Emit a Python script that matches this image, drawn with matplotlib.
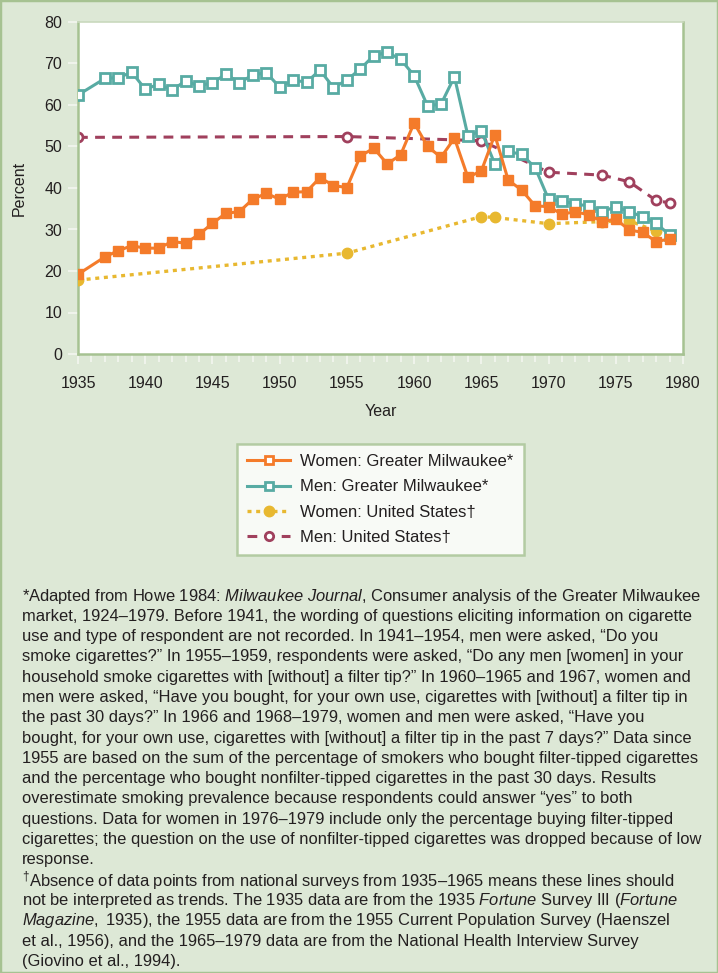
import matplotlib
matplotlib.use("Agg")
import matplotlib.pyplot as plt
from matplotlib.lines import Line2D
from matplotlib.patches import Rectangle
from matplotlib.ticker import MultipleLocator

plt.rcParams["font.family"] = ["Liberation Sans", "DejaVu Sans"]
plt.rcParams["mathtext.fontset"] = "custom"
plt.rcParams["mathtext.rm"] = "Liberation Sans"
plt.rcParams["mathtext.it"] = "Liberation Sans:italic"

BG = "#dde8d6"
EDGE = "#a6c292"
INK = "#231f20"
ORANGE = "#f47b2a"
TEAL = "#58aba3"
YELLOW = "#e8b830"
MAROON = "#a0405d"

# Greater Milwaukee, yearly (no 1936)
mke_years = [1935, 1937, 1938, 1939, 1940, 1941, 1942, 1943, 1944, 1945,
             1946, 1947, 1948, 1949, 1950, 1951, 1952, 1953, 1954, 1955,
             1956, 1957, 1958, 1959, 1960, 1961, 1962, 1963, 1964, 1965,
             1966, 1967, 1968, 1969, 1970, 1971, 1972, 1973, 1974, 1975,
             1976, 1977, 1978, 1979]
mke_women = [19.2, 23.4, 24.9, 26.1, 25.5, 25.5, 27.1, 26.7, 28.8, 31.5,
             33.9, 34.3, 37.3, 38.7, 37.3, 39.0, 39.1, 42.5, 40.6, 40.1,
             47.7, 49.6, 45.8, 48.0, 55.7, 50.0, 47.4, 52.0, 42.6, 44.1,
             52.8, 41.9, 39.5, 35.7, 35.5, 33.7, 34.3, 33.5, 31.9, 32.5,
             29.9, 29.3, 27.1, 27.7]
mke_men = [62.4, 66.4, 66.6, 67.9, 63.8, 65.0, 63.6, 65.8, 64.6, 65.4,
           67.4, 65.4, 67.2, 67.8, 64.3, 66.0, 65.5, 68.4, 64.2, 66.0,
           68.7, 71.9, 72.7, 71.0, 67.1, 59.8, 60.2, 66.8, 52.6, 53.8,
           45.8, 48.8, 48.1, 44.9, 37.3, 36.9, 36.1, 35.7, 34.3, 35.5,
           34.3, 33.1, 31.5, 28.7]

# national surveys
us_women_years = [1935, 1955, 1965, 1966, 1970, 1974, 1976, 1978]
us_women = [17.8, 24.3, 33.1, 32.9, 31.4, 31.9, 32.1, 29.6]
us_men_years = [1935, 1955, 1965, 1970, 1974, 1976, 1978, 1979]
us_men = [52.2, 52.4, 51.4, 43.8, 43.1, 41.5, 37.0, 36.4]

labels = ["Women: Greater Milwaukee*", "Men: Greater Milwaukee*",
          "Women: United States\u2020", "Men: United States\u2020"]

footnote = [
    "*Adapted from Howe 1984: $\\mathit{Milwaukee\\ Journal}$, Consumer analysis of the Greater Milwaukee",
    "market, 1924\u20131979. Before 1941, the wording of questions eliciting information on cigarette",
    "use and type of respondent are not recorded. In 1941\u20131954, men were asked, \u201cDo you",
    "smoke cigarettes?\u201d In 1955\u20131959, respondents were asked, \u201cDo any men [women] in your",
    "household smoke cigarettes with [without] a filter tip?\u201d In 1960\u20131965 and 1967, women and",
    "men were asked, \u201cHave you bought, for your own use, cigarettes with [without] a filter tip in",
    "the past 30 days?\u201d In 1966 and 1968\u20131979, women and men were asked, \u201cHave you",
    "bought, for your own use, cigarettes with [without] a filter tip in the past 7 days?\u201d Data since",
    "1955 are based on the sum of the percentage of smokers who bought filter-tipped cigarettes",
    "and the percentage who bought nonfilter-tipped cigarettes in the past 30 days. Results",
    "overestimate smoking prevalence because respondents could answer \u201cyes\u201d to both",
    "questions. Data for women in 1976\u20131979 include only the percentage buying filter-tipped",
    "cigarettes; the question on the use of nonfilter-tipped cigarettes was dropped because of low",
    "response.",
    "$^{\\dagger}$Absence of data points from national surveys from 1935\u20131965 means these lines should",
    "not be interpreted as trends. The 1935 data are from the 1935 $\\mathit{Fortune}$ Survey III ($\\mathit{Fortune}$",
    "$\\mathit{Magazine,\\ }$1935), the 1955 data are from the 1955 Current Population Survey (Haenszel",
    "et al., 1956), and the 1965\u20131979 data are from the National Health Interview Survey",
    "(Giovino et al., 1994).",
]

W, H = 718, 973
fig = plt.figure(figsize=(W / 100, H / 100), dpi=100)
fig.patch.set_facecolor(BG)
fig.patches.append(Rectangle((0, 0), 1, 1, transform=fig.transFigure,
                             fill=False, edgecolor=EDGE, lw=2.5))

ax = fig.add_axes([78 / W, 1 - 354 / H, 605 / W, 332 / H])
ax.set_facecolor("white")

ax.plot(us_men_years, us_men, color=MAROON, lw=2.2, ls=(0, (3.2, 2.4)),
        marker="o", ms=6.5, mfc="white", mec=MAROON, mew=2.0, zorder=2)
ax.plot(us_women_years, us_women, color=YELLOW, lw=2.4, ls=(0, (1.2, 1.4)),
        marker="o", ms=7.5, mfc=YELLOW, mec=YELLOW, zorder=3)
ax.plot(mke_years, mke_men, color=TEAL, lw=2.2, marker="s", ms=7,
        mfc="white", mec=TEAL, mew=2.0, zorder=4)
ax.plot(mke_years, mke_women, color=ORANGE, lw=2.2, marker="s", ms=7.5,
        mfc=ORANGE, mec=ORANGE, zorder=5)

ax.set_xlim(1935, 1980)
ax.set_ylim(0, 80)
ax.xaxis.set_major_locator(MultipleLocator(5))
ax.xaxis.set_minor_locator(MultipleLocator(1))
ax.yaxis.set_major_locator(MultipleLocator(10))
ax.tick_params(axis="both", which="both", direction="out", color="#f3f6f0",
               labelcolor=INK, labelsize=11.5, width=1.2)
ax.tick_params(axis="y", length=7.5, pad=4)
ax.tick_params(axis="x", which="major", length=7, pad=9)
ax.tick_params(axis="x", which="minor", length=6)

for side in ("left", "bottom", "right"):
    ax.spines[side].set_color(EDGE)
    ax.spines[side].set_linewidth(1.8)
ax.spines["top"].set_color("#c9d9bd")
ax.spines["top"].set_linewidth(1.2)

ax.set_ylabel("Percent", fontsize=11.5, color=INK)
ax.yaxis.set_label_coords(-0.085, 0.5)
ax.set_xlabel("Year", fontsize=11.5, color=INK)
ax.xaxis.set_label_coords(0.5, -0.15)

handles = [
    Line2D([], [], color=ORANGE, lw=2.2, marker="s", ms=6, mfc="white",
           mec=ORANGE, mew=2.0),
    Line2D([], [], color=TEAL, lw=2.2, marker="s", ms=6, mfc="white",
           mec=TEAL, mew=2.0),
    Line2D([], [], color=YELLOW, lw=2.4, ls=(0, (1.2, 1.4)), marker="o",
           ms=7.5, mfc=YELLOW, mec=YELLOW),
    Line2D([], [], color=MAROON, lw=2.2, ls=(0, (3.2, 2.4)), marker="o",
           ms=6, mfc="white", mec=MAROON, mew=2.0),
]
leg = fig.legend(handles, labels, loc="upper left",
                 bbox_to_anchor=(237 / W, 1 - 444 / H), borderaxespad=0,
                 fontsize=12, frameon=True, fancybox=False,
                 handlelength=2.6, handletextpad=0.6, labelspacing=0.62,
                 borderpad=0.6, labelcolor=INK)
leg.get_frame().set_edgecolor(EDGE)
leg.get_frame().set_linewidth(1.8)
leg.get_frame().set_facecolor("white")

y0, step = 596, 20.3
for i, line in enumerate(footnote):
    fig.text(22 / W, 1 - (y0 + i * step) / H, line, fontsize=11.9,
             color=INK, ha="left", va="center")

fig.savefig("out.png", dpi=100, facecolor=BG)
